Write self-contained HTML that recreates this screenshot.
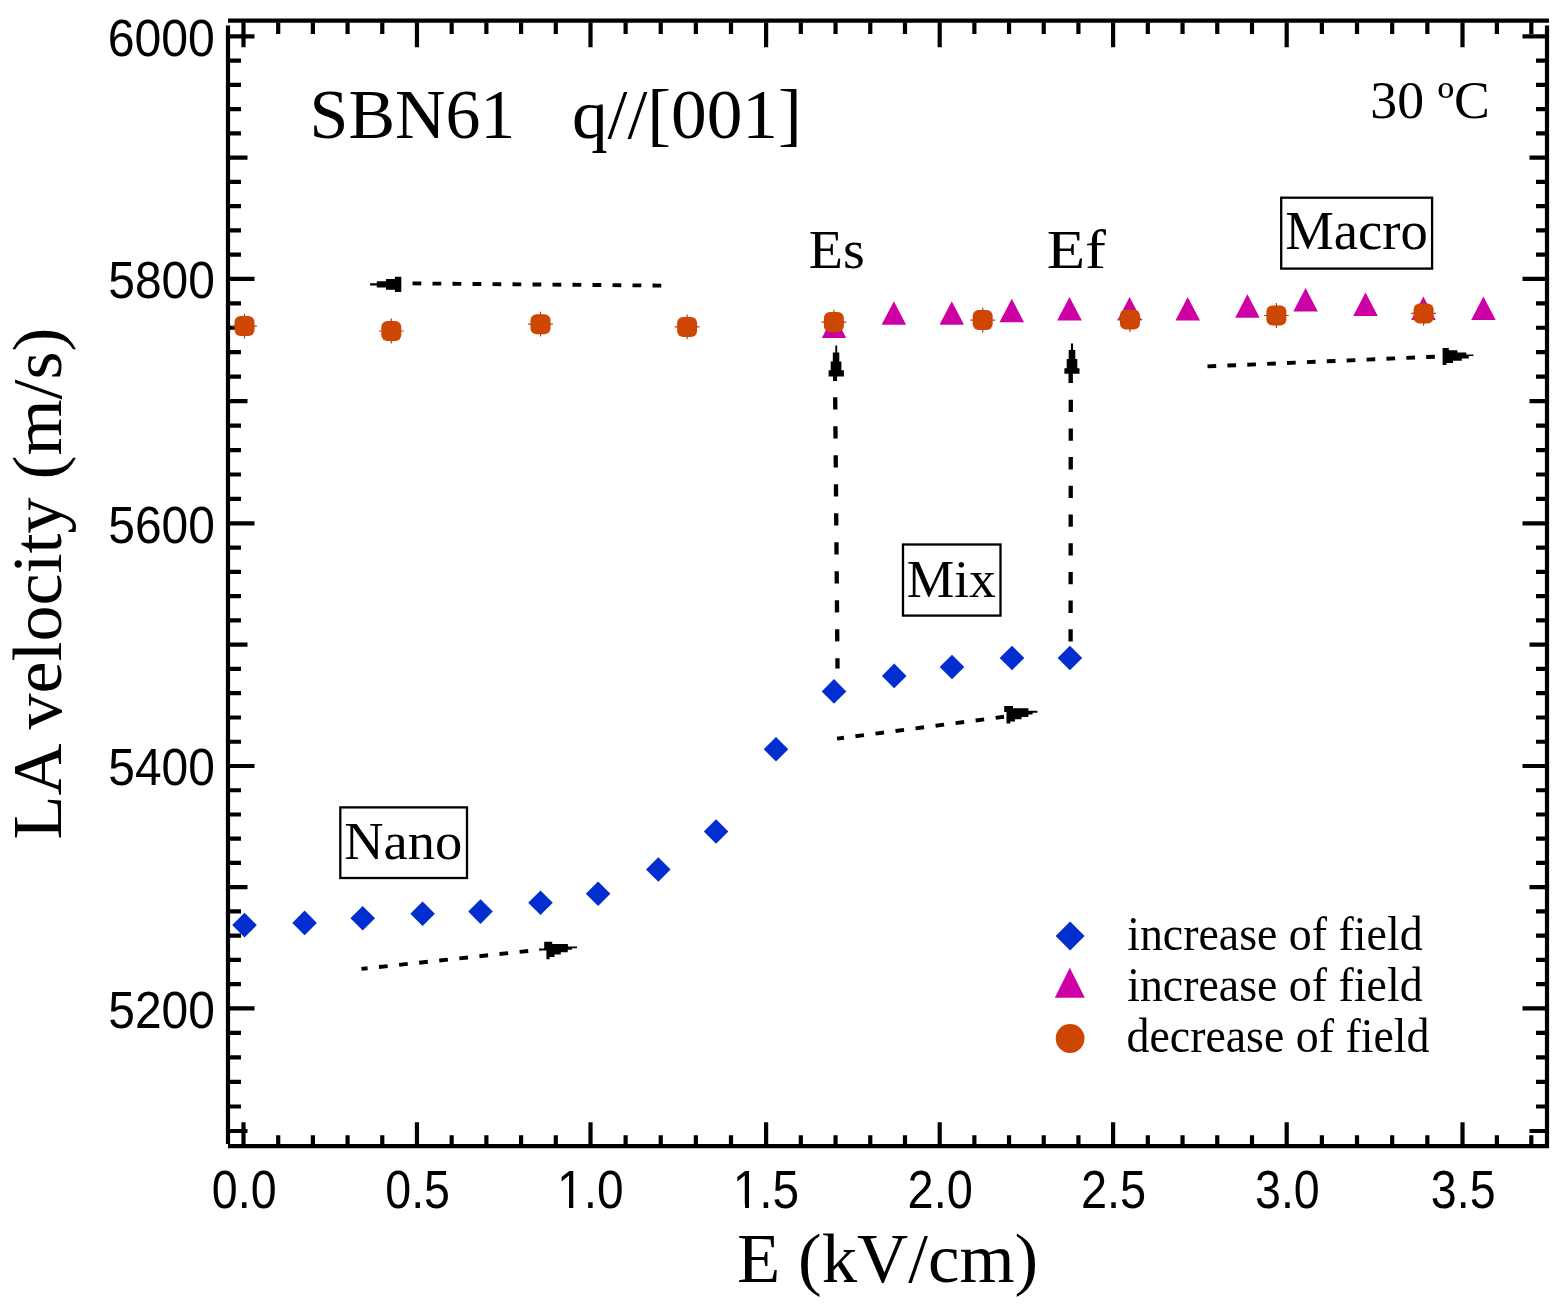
<!DOCTYPE html>
<html><head><meta charset="utf-8"><title>SBN61 LA velocity vs E</title>
<style>html,body{margin:0;padding:0;background:#fff}svg{display:block}</style></head>
<body><div id="w"><svg width="1563" height="1306" viewBox="0 0 1563 1306">
<rect width="1563" height="1306" fill="#fff"/>
<line x1="228" y1="20.7" x2="1549" y2="20.7" stroke="#000" stroke-width="4.2"/>
<line x1="228" y1="1146.1" x2="1549" y2="1146.1" stroke="#000" stroke-width="4.2"/>
<line x1="228" y1="25.5" x2="228" y2="1144" stroke="#000" stroke-width="4.2"/>
<line x1="1547" y1="25.5" x2="1547" y2="1148" stroke="#000" stroke-width="4.2"/>
<path d="M243.50 22.5V47.2 M243.50 1144.5V1122.2 M278.19 22.5V34.0 M278.19 1144.5V1135.3 M312.88 22.5V34.0 M312.88 1144.5V1135.3 M347.57 22.5V34.0 M347.57 1144.5V1135.3 M382.26 22.5V34.0 M382.26 1144.5V1135.3 M416.95 22.5V47.2 M416.95 1144.5V1122.2 M451.66 22.5V34.0 M451.66 1144.5V1135.3 M486.37 22.5V34.0 M486.37 1144.5V1135.3 M521.08 22.5V34.0 M521.08 1144.5V1135.3 M555.79 22.5V34.0 M555.79 1144.5V1135.3 M590.50 22.5V47.2 M590.50 1144.5V1122.2 M625.62 22.5V34.0 M625.62 1144.5V1135.3 M660.74 22.5V34.0 M660.74 1144.5V1135.3 M695.86 22.5V34.0 M695.86 1144.5V1135.3 M730.98 22.5V34.0 M730.98 1144.5V1135.3 M766.10 22.5V47.2 M766.10 1144.5V1122.2 M800.82 22.5V34.0 M800.82 1144.5V1135.3 M835.54 22.5V34.0 M835.54 1144.5V1135.3 M870.26 22.5V34.0 M870.26 1144.5V1135.3 M904.98 22.5V34.0 M904.98 1144.5V1135.3 M939.70 22.5V47.2 M939.70 1144.5V1122.2 M974.38 22.5V34.0 M974.38 1144.5V1135.3 M1009.06 22.5V34.0 M1009.06 1144.5V1135.3 M1043.74 22.5V34.0 M1043.74 1144.5V1135.3 M1078.42 22.5V34.0 M1078.42 1144.5V1135.3 M1113.10 22.5V47.2 M1113.10 1144.5V1122.2 M1147.82 22.5V34.0 M1147.82 1144.5V1135.3 M1182.54 22.5V34.0 M1182.54 1144.5V1135.3 M1217.26 22.5V34.0 M1217.26 1144.5V1135.3 M1251.98 22.5V34.0 M1251.98 1144.5V1135.3 M1286.70 22.5V47.2 M1286.70 1144.5V1122.2 M1321.86 22.5V34.0 M1321.86 1144.5V1135.3 M1357.02 22.5V34.0 M1357.02 1144.5V1135.3 M1392.18 22.5V34.0 M1392.18 1144.5V1135.3 M1427.34 22.5V34.0 M1427.34 1144.5V1135.3 M1462.50 22.5V47.2 M1462.50 1144.5V1122.2 M1496.90 22.5V34.0 M1496.90 1144.5V1135.3 M1531.30 22.5V34.0 M1531.30 1144.5V1135.3 M229.5 1131.00H247.5 M1545.5 1131.00H1529.5 M229.5 1106.48H241.0 M1545.5 1106.48H1536.0 M229.5 1081.96H241.0 M1545.5 1081.96H1536.0 M229.5 1057.44H241.0 M1545.5 1057.44H1536.0 M229.5 1032.92H241.0 M1545.5 1032.92H1536.0 M229.5 1008.40H254.5 M1545.5 1008.40H1522.5 M229.5 984.16H241.0 M1545.5 984.16H1536.0 M229.5 959.92H241.0 M1545.5 959.92H1536.0 M229.5 935.68H241.0 M1545.5 935.68H1536.0 M229.5 911.44H241.0 M1545.5 911.44H1536.0 M229.5 887.20H247.5 M1545.5 887.20H1529.5 M229.5 862.96H241.0 M1545.5 862.96H1536.0 M229.5 838.72H241.0 M1545.5 838.72H1536.0 M229.5 814.48H241.0 M1545.5 814.48H1536.0 M229.5 790.24H241.0 M1545.5 790.24H1536.0 M229.5 766.00H254.5 M1545.5 766.00H1522.5 M229.5 741.74H241.0 M1545.5 741.74H1536.0 M229.5 717.48H241.0 M1545.5 717.48H1536.0 M229.5 693.22H241.0 M1545.5 693.22H1536.0 M229.5 668.96H241.0 M1545.5 668.96H1536.0 M229.5 644.70H247.5 M1545.5 644.70H1529.5 M229.5 620.44H241.0 M1545.5 620.44H1536.0 M229.5 596.18H241.0 M1545.5 596.18H1536.0 M229.5 571.92H241.0 M1545.5 571.92H1536.0 M229.5 547.66H241.0 M1545.5 547.66H1536.0 M229.5 523.40H254.5 M1545.5 523.40H1522.5 M229.5 498.94H241.0 M1545.5 498.94H1536.0 M229.5 474.49H241.0 M1545.5 474.49H1536.0 M229.5 450.03H241.0 M1545.5 450.03H1536.0 M229.5 425.58H241.0 M1545.5 425.58H1536.0 M229.5 401.12H247.5 M1545.5 401.12H1529.5 M229.5 376.67H241.0 M1545.5 376.67H1536.0 M229.5 352.22H241.0 M1545.5 352.22H1536.0 M229.5 327.76H241.0 M1545.5 327.76H1536.0 M229.5 303.31H241.0 M1545.5 303.31H1536.0 M229.5 278.85H254.5 M1545.5 278.85H1522.5 M229.5 254.61H241.0 M1545.5 254.61H1536.0 M229.5 230.37H241.0 M1545.5 230.37H1536.0 M229.5 206.13H241.0 M1545.5 206.13H1536.0 M229.5 181.89H241.0 M1545.5 181.89H1536.0 M229.5 157.65H247.5 M1545.5 157.65H1529.5 M229.5 133.41H241.0 M1545.5 133.41H1536.0 M229.5 109.17H241.0 M1545.5 109.17H1536.0 M229.5 84.93H241.0 M1545.5 84.93H1536.0 M229.5 60.69H241.0 M1545.5 60.69H1536.0 M229.5 36.45H254.5 M1545.5 36.45H1522.5" stroke="#000" stroke-width="4.2" fill="none"/>
<text x="107.79" y="55.75" font-family='"Liberation Sans", Arial, sans-serif' font-size="52.3" textLength="107.12" lengthAdjust="spacingAndGlyphs">6000</text>
<text x="108.28" y="298.15" font-family='"Liberation Sans", Arial, sans-serif' font-size="52.3" textLength="106.62" lengthAdjust="spacingAndGlyphs">5800</text>
<text x="108.28" y="542.70" font-family='"Liberation Sans", Arial, sans-serif' font-size="52.3" textLength="106.62" lengthAdjust="spacingAndGlyphs">5600</text>
<text x="108.28" y="785.30" font-family='"Liberation Sans", Arial, sans-serif' font-size="52.3" textLength="106.62" lengthAdjust="spacingAndGlyphs">5400</text>
<text x="108.28" y="1027.70" font-family='"Liberation Sans", Arial, sans-serif' font-size="52.3" textLength="106.62" lengthAdjust="spacingAndGlyphs">5200</text>
<text x="211.84" y="1207.90" font-family='"Liberation Sans", Arial, sans-serif' font-size="52.8" textLength="64.73" lengthAdjust="spacingAndGlyphs">0.0</text>
<text x="385.29" y="1207.90" font-family='"Liberation Sans", Arial, sans-serif' font-size="52.8" textLength="64.73" lengthAdjust="spacingAndGlyphs">0.5</text>
<text x="557.11" y="1207.90" font-family='"Liberation Sans", Arial, sans-serif' font-size="52.8" textLength="66.51" lengthAdjust="spacingAndGlyphs">1.0</text>
<text x="732.71" y="1207.90" font-family='"Liberation Sans", Arial, sans-serif' font-size="52.8" textLength="66.51" lengthAdjust="spacingAndGlyphs">1.5</text>
<text x="907.55" y="1207.90" font-family='"Liberation Sans", Arial, sans-serif' font-size="52.8" textLength="65.23" lengthAdjust="spacingAndGlyphs">2.0</text>
<text x="1080.95" y="1207.90" font-family='"Liberation Sans", Arial, sans-serif' font-size="52.8" textLength="65.23" lengthAdjust="spacingAndGlyphs">2.5</text>
<text x="1255.04" y="1207.90" font-family='"Liberation Sans", Arial, sans-serif' font-size="52.8" textLength="64.73" lengthAdjust="spacingAndGlyphs">3.0</text>
<text x="1430.84" y="1207.90" font-family='"Liberation Sans", Arial, sans-serif' font-size="52.8" textLength="64.73" lengthAdjust="spacingAndGlyphs">3.5</text>
<rect x="559.5" y="1203.6" width="9.5" height="4.9" fill="#fff"/>
<rect x="573.3" y="1203.6" width="8.7" height="4.9" fill="#fff"/>
<rect x="735.5" y="1203.6" width="9.5" height="4.9" fill="#fff"/>
<rect x="749.0" y="1203.6" width="8.5" height="4.9" fill="#fff"/>
<text x="737.07" y="1281.90" font-family='"Liberation Serif", "Times New Roman", serif' font-size="69.5" textLength="301.12" lengthAdjust="spacingAndGlyphs">E (kV/cm)</text>
<text transform="translate(61 839.56) rotate(-90)" x="0" y="0" font-family='"Liberation Serif", "Times New Roman", serif' font-size="69.5" textLength="512.09" lengthAdjust="spacingAndGlyphs">LA velocity (m/s)</text>
<text x="309.56" y="137.70" font-family='"Liberation Serif", "Times New Roman", serif' font-size="69.8" textLength="205.76" lengthAdjust="spacingAndGlyphs">SBN61</text>
<text x="571.90" y="137.60" font-family='"Liberation Serif", "Times New Roman", serif' font-size="69.8" textLength="229.92" lengthAdjust="spacingAndGlyphs">q//[001]</text>
<text x="1370.32" y="118.40" font-family='"Liberation Serif", "Times New Roman", serif' font-size="52.4" textLength="119.55" lengthAdjust="spacingAndGlyphs">30 ºC</text>
<text x="808.82" y="267.70" font-family='"Liberation Serif", "Times New Roman", serif' font-size="54.2" textLength="56.04" lengthAdjust="spacingAndGlyphs">Es</text>
<text x="1046.71" y="267.70" font-family='"Liberation Serif", "Times New Roman", serif' font-size="54.2" textLength="59.32" lengthAdjust="spacingAndGlyphs">Ef</text>
<rect x="1281.2" y="197.7" width="150.9" height="70.9" fill="none" stroke="#000" stroke-width="2.3"/>
<text x="1285.16" y="249.40" font-family='"Liberation Serif", "Times New Roman", serif' font-size="53.9" textLength="142.72" lengthAdjust="spacingAndGlyphs">Macro</text>
<rect x="903" y="544.5" width="97.5" height="71.1" fill="none" stroke="#000" stroke-width="2.3"/>
<text x="906.80" y="596.80" font-family='"Liberation Serif", "Times New Roman", serif' font-size="53.3" textLength="89.04" lengthAdjust="spacingAndGlyphs">Mix</text>
<rect x="340.3" y="807.4" width="126.7" height="70.6" fill="none" stroke="#000" stroke-width="2.3"/>
<text x="344.16" y="859.00" font-family='"Liberation Serif", "Times New Roman", serif' font-size="53.4" textLength="118.07" lengthAdjust="spacingAndGlyphs">Nano</text>
<text x="1127.18" y="950.40" font-family='"Liberation Serif", "Times New Roman", serif' font-size="48" textLength="295.42" lengthAdjust="spacingAndGlyphs">increase of field</text>
<text x="1127.18" y="1001.20" font-family='"Liberation Serif", "Times New Roman", serif' font-size="48" textLength="295.42" lengthAdjust="spacingAndGlyphs">increase of field</text>
<text x="1126.50" y="1052.00" font-family='"Liberation Serif", "Times New Roman", serif' font-size="48" textLength="302.95" lengthAdjust="spacingAndGlyphs">decrease of field</text>
<line x1="661.3" y1="285.6" x2="411.5" y2="283.4" stroke="#000" stroke-width="3.9" stroke-dasharray="8.8 11.2" stroke-dashoffset="0"/>
<polygon points="370.1,283.3 376.8,283.3 376.8,281.3 386,281.3 386,279 394.9,279 394.9,276.7 401.3,276.7 401.3,292 394.9,292 394.9,289.7 386,289.7 386,287.4 376.8,287.4 376.8,285.4 370.1,285.4" fill="#000"/>
<line x1="361.5" y1="968.9" x2="540" y2="949.7" stroke="#000" stroke-width="3.9" stroke-dasharray="8.7 11.5" stroke-dashoffset="2.6"/>
<polygon points="544.2,941.7 552.2,941.7 552.2,944 567.9,944 567.9,946.4 577,946.4 577,948.2 571.9,948.2 571.9,949.8 567.7,949.8 567.7,952.2 560.8,952.2 560.8,954.5 554.5,954.5 554.5,957 549.6,957 549.6,959.2 546.4,959.2 546.4,950.6 539.3,950.6 539.3,948.4 544.2,948.4" fill="#000"/>
<line x1="837.0" y1="738.6" x2="1004" y2="716.8" stroke="#000" stroke-width="3.9" stroke-dasharray="8.6 11.6" stroke-dashoffset="1.6"/>
<polygon points="1004.2,706.1 1013,706.1 1013,708.2 1028.4,708.2 1028.4,710.7 1037.4,710.7 1037.4,712.7 1032.6,712.7 1032.6,714.6 1028.4,714.6 1028.4,717.1 1021.5,717.1 1021.5,719.2 1015,719.2 1015,721.5 1010.3,721.5 1010.3,723.6 1006.5,723.6 1006.5,711.9 1004.2,711.9" fill="#000"/>
<line x1="1207.5" y1="366.4" x2="1437" y2="356.6" stroke="#000" stroke-width="3.9" stroke-dasharray="8.7 11.2" stroke-dashoffset="0"/>
<polygon points="1442.6,348.1 1448.8,348.1 1448.8,350.2 1457.4,350.2 1457.4,352.5 1466.3,352.5 1466.3,354.6 1473.4,354.6 1473.4,356.1 1468.8,356.1 1468.8,358.4 1461.8,358.4 1461.8,360.7 1453,360.7 1453,363 1446.5,363 1446.5,365 1442.6,365" fill="#000"/>
<line x1="835.2" y1="397.2" x2="837.5" y2="668.5" stroke="#000" stroke-width="4.3" stroke-dasharray="12.2 16.8" stroke-dashoffset="0"/>
<polygon points="835.3,345.4 837.2,345.4 837.2,352.6 839.3,352.6 839.3,361.4 841.4,361.4 841.4,370.2 843.9,370.2 843.9,376.4 837.1,376.4 837.1,381 833,381 833,376.4 828.6,376.4 828.6,370.2 830.7,370.2 830.7,361.4 832.8,361.4 832.8,352.6 835.3,352.6" fill="#000"/>
<line x1="1070.8" y1="399.7" x2="1070.6" y2="641.5" stroke="#000" stroke-width="4.3" stroke-dasharray="12.3 16.4" stroke-dashoffset="0"/>
<polygon points="1070.9,343.6 1073.1,343.6 1073.1,349.9 1075.3,349.9 1075.3,359.1 1077.3,359.1 1077.3,368.3 1079.5,368.3 1079.5,373.8 1072.9,373.8 1072.9,383 1068.5,383 1068.5,373.8 1064.4,373.8 1064.4,368.3 1066.7,368.3 1066.7,359.1 1068.7,359.1 1068.7,349.9 1070.9,349.9" fill="#000"/>
<polygon points="244.5,912.8 256.8,925.1 244.5,937.4 232.2,925.1" fill="#022ecf"/>
<polygon points="304.6,910.6 316.9,922.9 304.6,935.2 292.3,922.9" fill="#022ecf"/>
<polygon points="362.7,906.0 375.0,918.3 362.7,930.6 350.4,918.3" fill="#022ecf"/>
<polygon points="422.6,901.5 434.9,913.8 422.6,926.1 410.3,913.8" fill="#022ecf"/>
<polygon points="480.5,899.3 492.8,911.6 480.5,923.9 468.2,911.6" fill="#022ecf"/>
<polygon points="540.5,890.5 552.8,902.8 540.5,915.1 528.2,902.8" fill="#022ecf"/>
<polygon points="598.1,881.5 610.4,893.8 598.1,906.1 585.8,893.8" fill="#022ecf"/>
<polygon points="658.3,857.2 670.6,869.5 658.3,881.8 646.0,869.5" fill="#022ecf"/>
<polygon points="716.1,819.2 728.4,831.5 716.1,843.8 703.8,831.5" fill="#022ecf"/>
<polygon points="776.0,736.9 788.3,749.2 776.0,761.5 763.7,749.2" fill="#022ecf"/>
<polygon points="834.0,679.1 846.3,691.4 834.0,703.7 821.7,691.4" fill="#022ecf"/>
<polygon points="894.2,663.6 906.5,675.9 894.2,688.2 881.9,675.9" fill="#022ecf"/>
<polygon points="952.0,654.7 964.3,667.0 952.0,679.3 939.7,667.0" fill="#022ecf"/>
<polygon points="1012.0,645.7 1024.3,658.0 1012.0,670.3 999.7,658.0" fill="#022ecf"/>
<polygon points="1069.9,645.7 1082.2,658.0 1069.9,670.3 1057.6,658.0" fill="#022ecf"/>
<polygon points="834.0,314.5 846.2,338.0 821.8,338.0" fill="#cd00a6"/>
<polygon points="893.9,301.3 906.1,324.8 881.6,324.8" fill="#cd00a6"/>
<polygon points="951.8,301.3 964.0,324.8 939.5,324.8" fill="#cd00a6"/>
<polygon points="1011.8,298.8 1024.0,322.3 999.5,322.3" fill="#cd00a6"/>
<polygon points="1069.5,297.0 1081.8,320.5 1057.2,320.5" fill="#cd00a6"/>
<polygon points="1129.6,297.0 1141.8,320.5 1117.3,320.5" fill="#cd00a6"/>
<polygon points="1187.7,297.0 1200.0,320.5 1175.5,320.5" fill="#cd00a6"/>
<polygon points="1247.4,294.3 1259.7,317.8 1235.2,317.8" fill="#cd00a6"/>
<polygon points="1305.6,288.1 1317.8,311.6 1293.3,311.6" fill="#cd00a6"/>
<polygon points="1365.5,292.5 1377.8,316.0 1353.2,316.0" fill="#cd00a6"/>
<polygon points="1423.4,296.5 1435.7,320.0 1411.2,320.0" fill="#cd00a6"/>
<polygon points="1483.4,296.5 1495.7,320.0 1471.2,320.0" fill="#cd00a6"/>
<rect x="234.5" y="316.1" width="20.0" height="20.0" rx="6.0" fill="#cd4602"/><path d="M244.5 313.7V317.1M244.5 335.1V338.5M232.1 326.1H235.5M253.5 326.1H256.9" stroke="#b4420a" stroke-width="1.2"/>
<rect x="381.3" y="321.0" width="20.0" height="20.0" rx="6.0" fill="#cd4602"/><path d="M391.3 318.6V322.0M391.3 340.0V343.4M378.9 331.0H382.3M400.3 331.0H403.7" stroke="#b4420a" stroke-width="1.2"/>
<rect x="530.5" y="314.2" width="20.0" height="20.0" rx="6.0" fill="#cd4602"/><path d="M540.5 311.8V315.2M540.5 333.2V336.6M528.1 324.2H531.5M549.5 324.2H552.9" stroke="#b4420a" stroke-width="1.2"/>
<rect x="677.1" y="316.9" width="20.0" height="20.0" rx="6.0" fill="#cd4602"/><path d="M687.1 314.5V317.9M687.1 335.9V339.3M674.7 326.9H678.1M696.1 326.9H699.5" stroke="#b4420a" stroke-width="1.2"/>
<rect x="823.9" y="312.1" width="20.0" height="20.0" rx="6.0" fill="#cd4602"/><path d="M833.9 309.7V313.1M833.9 331.1V334.5M821.5 322.1H824.9M842.9 322.1H846.3" stroke="#b4420a" stroke-width="1.2"/>
<rect x="972.7" y="310.1" width="20.0" height="20.0" rx="6.0" fill="#cd4602"/><path d="M982.7 307.7V311.1M982.7 329.1V332.5M970.3 320.1H973.7M991.7 320.1H995.1" stroke="#b4420a" stroke-width="1.2"/>
<rect x="1119.9" y="309.5" width="20.0" height="20.0" rx="6.0" fill="#cd4602"/><path d="M1129.9 307.1V310.5M1129.9 328.5V331.9M1117.5 319.5H1120.9M1138.9 319.5H1142.3" stroke="#b4420a" stroke-width="1.2"/>
<rect x="1266.4" y="305.5" width="20.0" height="20.0" rx="6.0" fill="#cd4602"/><path d="M1276.4 303.1V306.5M1276.4 324.5V327.9M1264.0 315.5H1267.4M1285.4 315.5H1288.8" stroke="#b4420a" stroke-width="1.2"/>
<rect x="1413.6" y="303.4" width="20.0" height="20.0" rx="6.0" fill="#cd4602"/><path d="M1423.6 301.0V304.4M1423.6 322.4V325.8M1411.2 313.4H1414.6M1432.6 313.4H1436.0" stroke="#b4420a" stroke-width="1.2"/>
<polygon points="1070.1,921.6 1084.6,936.1 1070.1,950.6 1055.6,936.1" fill="#022ecf"/>
<polygon points="1069.8,967.8 1084.8,997.8 1054.8,997.8" fill="#cd00a6"/>
<circle cx="1070.1" cy="1038.5" r="14.4" fill="#cd4602"/>
</svg></div></body></html>
